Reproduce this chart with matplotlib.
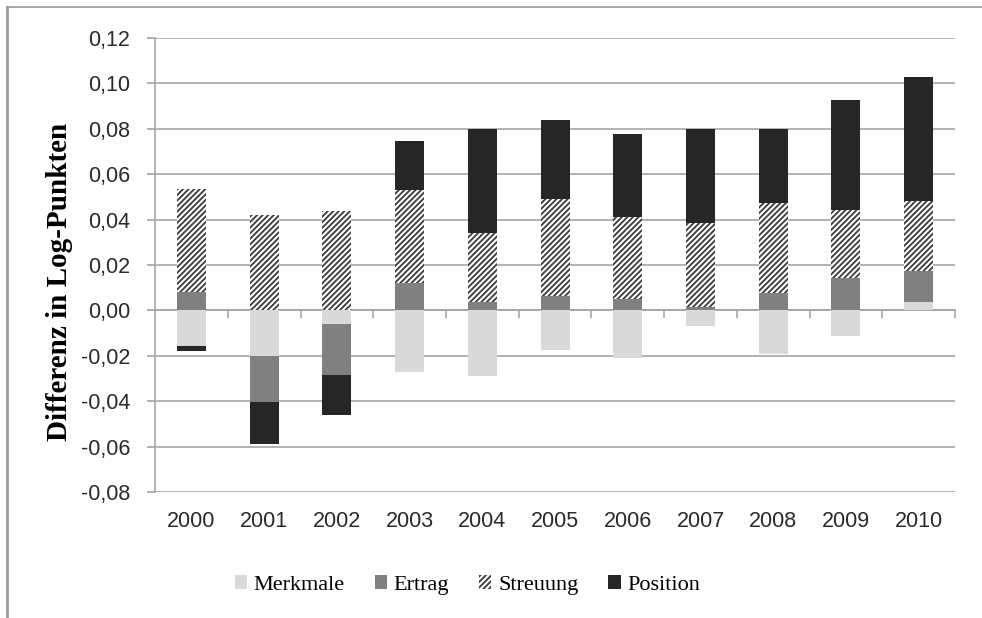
import matplotlib.pyplot as plt
import matplotlib.patches as mpatches
from matplotlib.lines import Line2D
import numpy as np

# Daten
jahre = ['2000', '2001', '2002', '2003', '2004', '2005', '2006', '2007', '2008', '2009', '2010']
merkmale = [-0.0157, -0.0201, -0.0059, -0.0273, -0.0289, -0.0176, -0.0210, -0.0071, -0.0194, -0.0114, 0.0037]
ertrag = [0.0081, -0.0203, -0.0226, 0.0122, 0.0037, 0.0063, 0.0048, 0.0013, 0.0075, 0.0143, 0.0135]
streuung = [0.0452, 0.0422, 0.0438, 0.0407, 0.0304, 0.0426, 0.0362, 0.0372, 0.0396, 0.0301, 0.0312]
position = [-0.0021, -0.0186, -0.0175, 0.0217, 0.0456, 0.0348, 0.0365, 0.0412, 0.0326, 0.0483, 0.0542]
y_ticks = [-0.08, -0.06, -0.04, -0.02, 0.00, 0.02, 0.04, 0.06, 0.08, 0.10, 0.12]

serien = [
    ('Merkmale', merkmale, dict(color='#d9d9d9')),
    ('Ertrag', ertrag, dict(color='#808080')),
    ('Streuung', streuung, dict(facecolor='white', hatch='//////')),
    ('Position', position, dict(color='#262626')),
]

plt.rcParams['hatch.color'] = '#3a3a3a'
plt.rcParams['hatch.linewidth'] = 1.3

fig = plt.figure(figsize=(9.82, 6.18), dpi=100)
ax = fig.add_axes([0.158, 0.204, 0.8145, 0.7345])

x = np.arange(len(jahre))
breite = 0.40

# Excel-artiges Stapeln: positive nach oben, negative nach unten
pos_basis = np.zeros(len(jahre))
neg_basis = np.zeros(len(jahre))
handles = []
for name, werte, stil in serien:
    werte = np.array(werte)
    basis = np.where(werte >= 0, pos_basis, neg_basis)
    ax.bar(x, werte, breite, bottom=basis, linewidth=0, zorder=3, **stil)
    pos_basis += np.where(werte >= 0, werte, 0)
    neg_basis += np.where(werte < 0, werte, 0)
    handles.append(mpatches.Patch(label=name, linewidth=0, **stil))

ax.set_xlim(-0.5, len(jahre) - 0.5)
ax.set_ylim(-0.08, 0.12)
ax.set_yticks(y_ticks)
ax.set_yticklabels([f'{v:.2f}'.replace('.', ',') for v in y_ticks])
ax.set_xticks(x)
ax.set_xticklabels(jahre)

gitter = '#a6a6a6'
ax.grid(axis='y', color=gitter, linewidth=1.2, zorder=0)
ax.set_axisbelow(True)
for s in ['top', 'right', 'bottom']:
    ax.spines[s].set_visible(False)
ax.spines['left'].set_color(gitter)
ax.spines['left'].set_linewidth(1.2)
ax.tick_params(axis='y', colors=gitter, length=6, width=1.2, labelcolor='#2a2a2a',
               labelsize=15.5, pad=12)
ax.tick_params(axis='x', length=0, labelcolor='#2a2a2a', labelsize=15.5, pad=14)
for lab in ax.get_xticklabels() + ax.get_yticklabels():
    lab.set_family('Liberation Sans')

# Nulllinie mit Trennstrichen
sek = ax.secondary_xaxis(0.4)
sek.set_xticks(np.arange(0.5, len(jahre), 1.0))
sek.tick_params(axis='x', direction='out', length=6, width=1.2, colors=gitter, labelbottom=False)
sek.spines['bottom'].set_color(gitter)
sek.spines['bottom'].set_linewidth(1.2)

ax.set_ylabel('Differenz in Log-Punkten', family='Liberation Serif', fontweight='bold',
              fontsize=21)
ax.yaxis.set_label_coords(-0.103, 0.463)

fig.legend(handles=handles, loc='center', bbox_to_anchor=(0.476, 0.053), ncol=4,
           frameon=False, prop={'family': 'Liberation Serif', 'size': 16},
           handlelength=0.55, handleheight=0.55, handletextpad=0.3, columnspacing=1.35)

# Rahmen oben und links
fig.add_artist(Line2D([0.007, 0.007], [0, 0.989], transform=fig.transFigure,
                      color='#999999', linewidth=2))
fig.add_artist(Line2D([0.007, 1], [0.989, 0.989], transform=fig.transFigure,
                      color='#999999', linewidth=1.2))

fig.savefig('out.png', dpi=100)
